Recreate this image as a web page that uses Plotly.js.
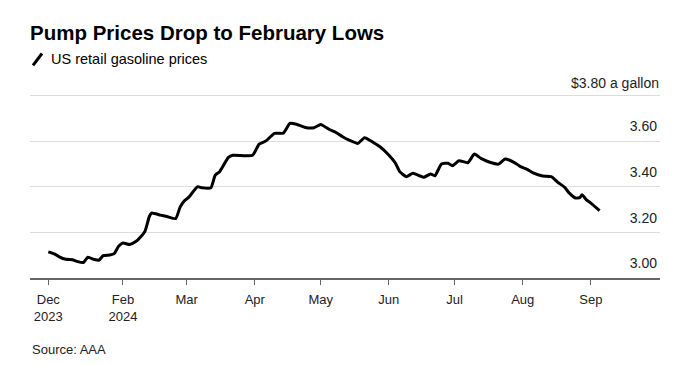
<!DOCTYPE html>
<html>
<head>
<meta charset="utf-8">
<script src="https://cdn.plot.ly/plotly-3.0.1.min.js"></script>
<style>
  html, body { margin: 0; padding: 0; background: #ffffff; }
  #chart { width: 680px; height: 365px; }
</style>
</head>
<body>
<div id="chart"></div>
<script>
// ---- Data ----
const dates = [
  '2023-12-29','2024-01-01','2024-01-03','2024-01-06','2024-01-09','2024-01-11','2024-01-14',
  '2024-01-16','2024-01-19','2024-01-21','2024-01-23','2024-01-26','2024-01-28','2024-01-30',
  '2024-02-01','2024-02-04','2024-02-07','2024-02-09','2024-02-11','2024-02-13','2024-02-14',
  '2024-02-18','2024-02-21','2024-02-25','2024-02-27','2024-02-29','2024-03-02','2024-03-06',
  '2024-03-08','2024-03-12','2024-03-14','2024-03-16','2024-03-20','2024-03-22','2024-03-31',
  '2024-04-03','2024-04-06','2024-04-10','2024-04-14','2024-04-17','2024-04-20','2024-04-24',
  '2024-04-28','2024-05-01','2024-05-05','2024-05-08','2024-05-11','2024-05-14','2024-05-18',
  '2024-05-21','2024-05-25','2024-05-28','2024-06-01','2024-06-04','2024-06-06','2024-06-09',
  '2024-06-12','2024-06-15','2024-06-17','2024-06-20','2024-06-22','2024-06-25','2024-06-28',
  '2024-06-30','2024-07-03','2024-07-07','2024-07-10','2024-07-13','2024-07-17','2024-07-21',
  '2024-07-24','2024-07-28','2024-07-31','2024-08-03','2024-08-06','2024-08-10','2024-08-14',
  '2024-08-17','2024-08-20','2024-08-22','2024-08-25','2024-08-27','2024-08-28','2024-08-30',
  '2024-09-01','2024-09-05'
];
const prices = [
  3.115,3.105,3.093,3.082,3.080,3.073,3.068,
  3.091,3.081,3.078,3.098,3.101,3.107,3.139,
  3.154,3.147,3.161,3.180,3.205,3.270,3.285,
  3.276,3.270,3.261,3.311,3.339,3.355,3.401,
  3.396,3.396,3.452,3.467,3.530,3.539,3.539,
  3.588,3.601,3.635,3.636,3.679,3.675,3.661,
  3.660,3.674,3.652,3.639,3.620,3.605,3.591,
  3.616,3.595,3.576,3.540,3.505,3.467,3.445,
  3.460,3.449,3.442,3.457,3.449,3.500,3.504,
  3.493,3.515,3.506,3.544,3.525,3.508,3.500,
  3.522,3.508,3.489,3.477,3.460,3.448,3.445,
  3.420,3.399,3.375,3.351,3.353,3.365,3.343,
  3.329,3.296
];
const xTickVals = ['2023-12-29','2024-02-01','2024-03-01','2024-04-01','2024-05-01','2024-06-01','2024-07-01','2024-08-01','2024-09-01'];
const xTickText = ['Dec<br>2023','Feb<br>2024','Mar','Apr','May','Jun','Jul','Aug','Sep'];
const yTickVals = [3.0, 3.2, 3.4, 3.6, 3.8];
const yTickText = ['3.00','3.20','3.40','3.60',''];
const yTopValue = 3.8;
const yTopLabel = '$3.80 a gallon';

const FONT = 'Liberation Sans, Arial, Helvetica, sans-serif';

// plot area geometry (pixels)
const TOP = 72.6, BOTTOM = 86.5, H = 365;
const PH = H - TOP - BOTTOM;
const AXIS_Y = H - BOTTOM;
const py = p => (AXIS_Y - p) / PH;   // page pixel y -> paper y

const trace = {
  type: 'scatter',
  mode: 'lines',
  x: dates,
  y: prices,
  line: { color: '#000000', width: 3, shape: 'spline', smoothing: 0.5 },
  hoverinfo: 'x+y',
  showlegend: false
};

const layout = {
  width: 680,
  height: 365,
  margin: { l: 30, r: 20, t: TOP, b: BOTTOM, pad: 0 },
  paper_bgcolor: '#ffffff',
  plot_bgcolor: '#ffffff',
  font: { family: FONT, color: '#000000' },
  showlegend: false,
  title: {
    text: 'Pump Prices Drop to February Lows',
    font: { family: FONT, size: 20.5, weight: 'bold', color: '#000000' },
    x: 30 / 680, xref: 'container', xanchor: 'left',
    y: 1 - 33 / 365, yref: 'container', yanchor: 'middle'
  },
  xaxis: {
    type: 'date',
    range: ['2023-12-20 16:00', '2024-10-02 12:00'],
    tickmode: 'array',
    tickvals: xTickVals,
    ticktext: xTickText,
    ticks: 'outside',
    ticklen: 5,
    tickwidth: 1,
    tickcolor: '#666666',
    ticklabelstandoff: 3,
    showline: true,
    linecolor: '#666666',
    linewidth: 2,
    showgrid: false,
    zeroline: false,
    tickfont: { family: FONT, size: 13, color: '#222222' },
    fixedrange: true
  },
  yaxis: {
    range: [3.0, 3.9],
    side: 'right',
    tickmode: 'array',
    tickvals: yTickVals,
    ticktext: yTickText,
    ticklabelposition: 'inside top',
    ticklabelshift: -5,
    ticks: '',
    showline: false,
    showgrid: true,
    gridcolor: '#dcdcdc',
    gridwidth: 1,
    zeroline: false,
    tickfont: { family: FONT, size: 14, color: '#222222' },
    fixedrange: true
  },
  shapes: [
    {
      type: 'line', xref: 'paper', yref: 'paper',
      x0: 3 / 630, x1: 12 / 630,
      y0: py(65), y1: py(53),
      line: { color: '#000000', width: 3 }
    }
  ],
  annotations: [
    {
      text: yTopLabel,
      xref: 'paper', yref: 'y', x: 1, xanchor: 'right', xshift: 1,
      y: yTopValue, yanchor: 'middle', yshift: 13,
      showarrow: false,
      font: { family: FONT, size: 14, color: '#222222' }
    },
    {
      text: 'US retail gasoline prices',
      xref: 'paper', yref: 'paper', x: 0, xshift: 19, xanchor: 'left',
      y: py(59), yanchor: 'middle',
      showarrow: false,
      font: { family: FONT, size: 14.5, color: '#000000' }
    },
    {
      text: 'Source: AAA',
      xref: 'paper', yref: 'paper', x: 0, xanchor: 'left',
      y: py(350), yanchor: 'middle',
      showarrow: false,
      font: { family: FONT, size: 13, color: '#222222' }
    }
  ]
};

Plotly.newPlot('chart', [trace], layout, { displayModeBar: false, staticPlot: true });
</script>
</body>
</html>
